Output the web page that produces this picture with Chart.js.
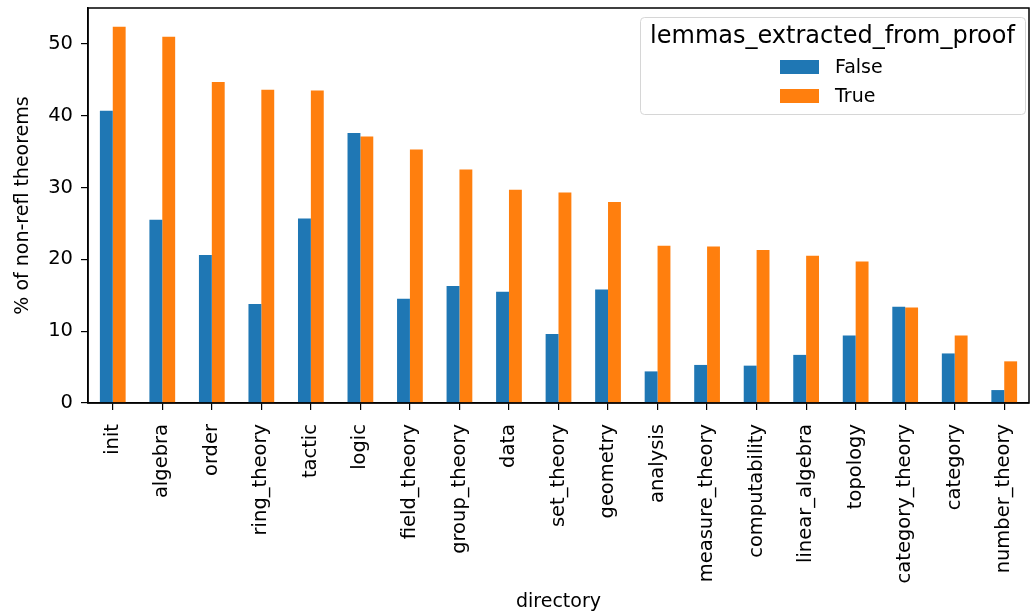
<!DOCTYPE html>
<html lang="en">
<head>
    <meta charset="UTF-8">
    <title>lemmas extracted from proof</title>
    <script src="https://cdn.jsdelivr.net/npm/chart.js"></script>
    <style>
        body { margin: 0; background: #fff; }
    </style>
</head>
<body>
    <canvas id="myChart" width="1031" height="613"></canvas>

    <script>
        const directories = ['init', 'algebra', 'order', 'ring_theory', 'tactic', 'logic', 'field_theory',
            'group_theory', 'data', 'set_theory', 'geometry', 'analysis', 'measure_theory',
            'computability', 'linear_algebra', 'topology', 'category_theory', 'category', 'number_theory'];
        const falseValues = [40.7, 25.5, 20.6, 13.8, 25.7, 37.6, 14.5, 16.3, 15.5, 9.6, 15.8, 4.4, 5.3,
            5.2, 6.7, 9.4, 13.4, 6.9, 1.8];
        const trueValues = [52.4, 51.0, 44.7, 43.6, 43.5, 37.1, 35.3, 32.5, 29.7, 29.3, 28.0, 21.9, 21.8,
            21.3, 20.5, 19.7, 13.3, 9.4, 5.8];
        const seriesNames = ['False', 'True'];
        const legendTitle = 'lemmas_extracted_from_proof';

        const FONT = 'DejaVu Sans';

        // matplotlib style frame + legend box drawn on top
        const framePlugin = {
            id: 'frameAndLegend',
            afterDraw: (chart) => {
                const {ctx, chartArea: a} = chart;
                ctx.save();
                ctx.strokeStyle = '#000';
                ctx.lineWidth = 1.5;
                ctx.strokeRect(a.left, a.top, a.right - a.left, a.bottom - a.top);

                // legend
                const x0 = 640, y0 = 17, w = 385, h = 97;
                ctx.fillStyle = 'rgba(255,255,255,0.8)';
                ctx.strokeStyle = '#d6d6d6';
                ctx.lineWidth = 1;
                ctx.beginPath();
                ctx.roundRect(x0 + 0.5, y0 + 0.5, w, h, 4);
                ctx.fill();
                ctx.stroke();

                ctx.fillStyle = '#000';
                ctx.font = '24px "' + FONT + '"';
                ctx.textAlign = 'center';
                ctx.textBaseline = 'middle';
                ctx.fillText(legendTitle, x0 + w / 2, y0 + 20);

                ctx.font = '19px "' + FONT + '"';
                ctx.textAlign = 'left';
                chart.data.datasets.forEach((ds, i) => {
                    const cy = 67 + i * 29;
                    ctx.fillStyle = ds.backgroundColor;
                    ctx.fillRect(780, cy - 7, 39, 14);
                    ctx.fillStyle = '#000';
                    ctx.fillText(ds.label, 835, cy + 1);
                });
                ctx.restore();
            }
        };

        const ctx = document.getElementById('myChart');

        new Chart(ctx, {
            type: 'bar',
            data: {
                labels: directories,
                datasets: [
                    { label: seriesNames[0], data: falseValues, backgroundColor: '#1f77b4' },
                    { label: seriesNames[1], data: trueValues, backgroundColor: '#ff7f0e' }
                ]
            },
            options: {
                responsive: false,
                animation: false,
                categoryPercentage: 0.52,
                barPercentage: 1.0,
                layout: { padding: { top: 8, right: 2, left: 0, bottom: 0 } },
                scales: {
                    x: {
                        grid: {
                            offset: false,
                            drawOnChartArea: false,
                            color: '#000',
                            lineWidth: 1.2,
                            tickLength: 7
                        },
                        border: { color: '#000', width: 1.5 },
                        ticks: {
                            color: '#000',
                            font: { family: FONT, size: 19.5 },
                            minRotation: 90,
                            maxRotation: 90,
                            autoSkip: false,
                            padding: 14
                        },
                        title: {
                            display: true,
                            text: 'directory',
                            color: '#000',
                            font: { family: FONT, size: 19 },
                            padding: { top: 0, bottom: 0 }
                        },
                        afterFit: (scale) => {
                            scale.height = 210;
                            scale.paddingLeft = 0;
                            scale.paddingRight = 0;
                        }
                    },
                    y: {
                        min: 0,
                        max: 55,
                        grid: {
                            drawOnChartArea: false,
                            color: '#000',
                            lineWidth: 1.2,
                            tickLength: 7
                        },
                        border: { color: '#000', width: 1.5 },
                        ticks: {
                            stepSize: 10,
                            includeBounds: false,
                            color: '#000',
                            font: { family: FONT, size: 19.5 },
                            padding: 8
                        },
                        title: {
                            display: true,
                            text: '% of non-refl theorems',
                            color: '#000',
                            font: { family: FONT, size: 19 },
                            padding: { top: 12, bottom: 4 }
                        },
                        afterFit: (scale) => {
                            scale.width = 88;
                            scale.paddingTop = 0;
                            scale.paddingBottom = 0;
                        }
                    }
                },
                plugins: {
                    legend: { display: false },
                    tooltip: { enabled: false }
                }
            },
            plugins: [framePlugin]
        });
    </script>
</body>
</html>
